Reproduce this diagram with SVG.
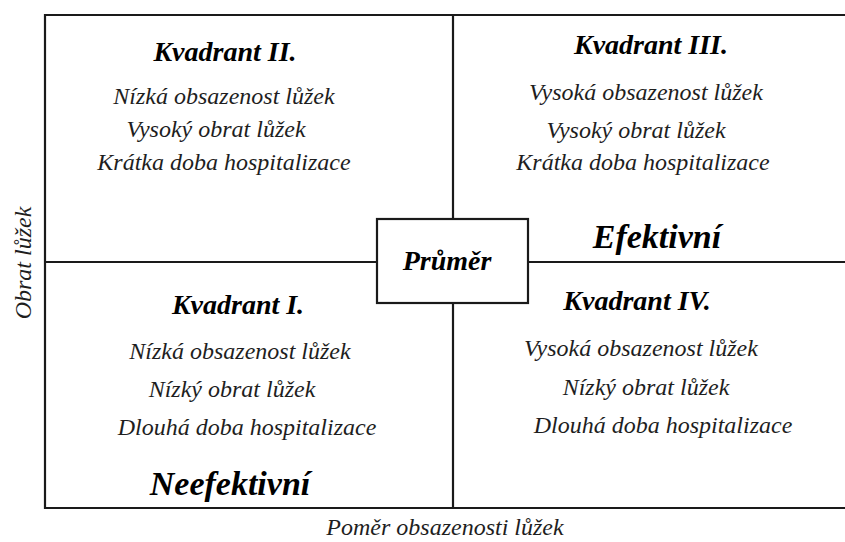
<svg xmlns="http://www.w3.org/2000/svg" width="845" height="542" viewBox="0 0 845 542">
  <style>
    .ln { stroke: #1a1a1a; stroke-width: 2.2; fill: none; }
    .t { font-family: "Liberation Serif", "Times New Roman", "DejaVu Serif", serif; font-style: italic; text-anchor: middle; }
    .item { font-size: 24px; fill: #1e1e1e; }
    .title { font-size: 28px; font-weight: bold; fill: #000; }
    .big { font-size: 34px; font-weight: bold; fill: #000; }
    .axis { font-size: 24px; fill: #1e1e1e; }
  </style>
  <rect width="845" height="542" fill="#fff"/>
  <g id="frame">
    <path class="ln" d="M846 15 H45 V508 H846"/>
  </g>
  <g id="connectors">
    <line class="ln" x1="453" y1="15" x2="453" y2="219"/>
    <line class="ln" x1="453" y1="303" x2="453" y2="508"/>
    <line class="ln" x1="45" y1="262" x2="377" y2="262"/>
    <line class="ln" x1="528" y1="262" x2="846" y2="262"/>
  </g>
  <g id="kvadrant-II">
    <text class="t title" x="225" y="61">Kvadrant II.</text>
    <text class="t item" x="224" y="104">Nízká obsazenost lůžek</text>
    <text class="t item" x="216" y="137">Vysoký obrat lůžek</text>
    <text class="t item" x="224" y="170">Krátka doba hospitalizace</text>
  </g>
  <g id="kvadrant-III">
    <text class="t title" x="651" y="54">Kvadrant III.</text>
    <text class="t item" x="646" y="100">Vysoká obsazenost lůžek</text>
    <text class="t item" x="636" y="138">Vysoký obrat lůžek</text>
    <text class="t item" x="643" y="170">Krátka doba hospitalizace</text>
    <text class="t big" x="657" y="248">Efektivní</text>
  </g>
  <g id="kvadrant-I">
    <text class="t title" x="238" y="314">Kvadrant I.</text>
    <text class="t item" x="240" y="359">Nízká obsazenost lůžek</text>
    <text class="t item" x="232" y="397">Nízký obrat lůžek</text>
    <text class="t item" x="247" y="435">Dlouhá doba hospitalizace</text>
    <text class="t big" x="230" y="495">Neefektivní</text>
  </g>
  <g id="kvadrant-IV">
    <text class="t title" x="637" y="310">Kvadrant IV.</text>
    <text class="t item" x="641" y="356">Vysoká obsazenost lůžek</text>
    <text class="t item" x="646" y="395">Nízký obrat lůžek</text>
    <text class="t item" x="663" y="433">Dlouhá doba hospitalizace</text>
  </g>
  <g id="prumer">
    <rect class="ln" x="377" y="219" width="151" height="84" fill="#fff"/>
    <text class="t title" x="447" y="270">Průměr</text>
  </g>
  <g id="axis-x">
    <text class="t axis" x="445" y="535">Poměr obsazenosti lůžek</text>
  </g>
  <g id="axis-y">
    <text class="t axis" transform="translate(31 263) rotate(-90)" x="0" y="0">Obrat lůžek</text>
  </g>
</svg>
